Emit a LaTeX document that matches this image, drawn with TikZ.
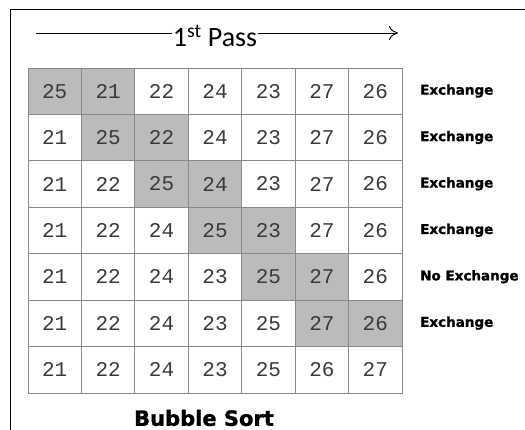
\documentclass[tikz,border=0pt]{standalone}
\usepackage{fontspec}
\setmainfont{Carlito}
\newfontfamily\numfont{Liberation Mono}
\newfontfamily\labfont[BoldFeatures={FakeBold=1.2}]{DejaVu Sans}
\usetikzlibrary{arrows.meta}
\definecolor{cellshade}{HTML}{BBBBBB}
\definecolor{gridline}{HTML}{8A8A8A}
\definecolor{numcol}{HTML}{3A3A3A}
\tikzset{
  cellbox/.style={draw=gridline, line width=0.8pt, minimum width=53.43pt, minimum height=46.43pt,
    inner sep=0pt, outer sep=0pt, text=numcol, font=\numfont\fontsize{21}{21}\selectfont},
  shaded/.style={fill=cellshade},
  steplabel/.style={anchor=west, inner sep=0pt, font=\labfont\bfseries\fontsize{13.5}{14}\selectfont},
  passarrow/.style={line width=0.9pt},
}
\begin{document}
\begin{tikzpicture}[x=1pt,y=-1pt]
\useasboundingbox (0,0) rectangle (525,430);
% frame
\draw[line width=1.9pt] (10.5,440) -- (10.5,9.5) -- (530,9.5);
% pass arrow
\node[inner sep=1pt, font=\fontsize{28}{28}\selectfont] (pass) at (215,36) {1\textsuperscript{st} Pass};
\coordinate (pstart) at (36,33);
\coordinate (pend) at (398,33);
\draw[passarrow] (pstart) -- (pass.west |- pstart);
\draw[passarrow, -{To[length=9pt,width=14pt,line width=0.9pt]}] (pass.east |- pend) -- (pend);
% grid
\foreach \row/\vals/\sa/\sb in {
  0/{25,21,22,24,23,27,26}/0/1,
  1/{21,25,22,24,23,27,26}/1/2,
  2/{21,22,25,24,23,27,26}/2/3,
  3/{21,22,24,25,23,27,26}/3/4,
  4/{21,22,24,23,25,27,26}/4/5,
  5/{21,22,24,23,25,27,26}/5/6,
  6/{21,22,24,23,25,26,27}/9/9} {
  \foreach \v [count=\c from 0] in \vals {
    \pgfmathsetmacro{\isshade}{(\c==\sa || \c==\sb) ? 1 : 0}
    \ifdim\isshade pt>0.5pt
      \node[cellbox, shaded, anchor=north west] (c-\row-\c) at ({28+\c*53.43},{68+\row*46.43}) {\v};
    \else
      \node[cellbox, anchor=north west] (c-\row-\c) at ({28+\c*53.43},{68+\row*46.43}) {\v};
    \fi
  }
}
% labels
\foreach \row/\txt in {0/Exchange,1/Exchange,2/Exchange,3/Exchange,4/No Exchange,5/Exchange} {
  \node[steplabel] (lab-\row) at (420, {68+\row*46.43+23}) {\txt};
}
\node[font=\labfont\bfseries\fontsize{21}{21}\selectfont, inner sep=0pt] (title) at (204,418) {Bubble Sort};
\end{tikzpicture}
\end{document}
